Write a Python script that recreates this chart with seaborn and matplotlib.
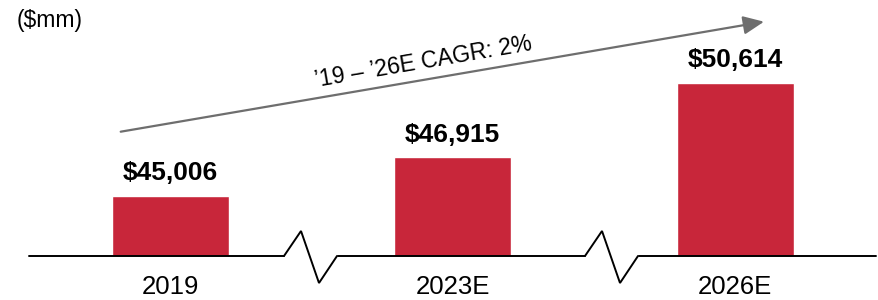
import matplotlib
matplotlib.use("Agg")
import matplotlib.pyplot as plt
import seaborn as sns
import pandas as pd
from matplotlib.patches import Circle

categories = ["2019", "2023E", "2026E"]
values = [45006, 46915, 50614]
value_labels = ["$45,006", "$46,915", "$50,614"]
unit_label = "($mm)"
cagr_label = "\u201919 \u2013 \u201926E CAGR: 2%"

sns.set_theme(style="white")
plt.rcParams['font.family'] = ['Liberation Sans', 'DejaVu Sans']

W, H = 879, 300
fig = plt.figure(figsize=(W / 100, H / 100), dpi=100)

ax_left, ax_right = 29, 876
base_py = 256
ax = fig.add_axes([ax_left / W, (H - base_py) / H, (ax_right - ax_left) / W, base_py / H])

df = pd.DataFrame({"year": categories, "value": values})
sns.barplot(data=df, x="year", y="value", color="#C8263A", saturation=1,
            width=0.414, ax=ax)

x0, dx = 170.3, 282.5
px2x = lambda px: (px - x0) / dx
ax.set_xlim(px2x(ax_left), px2x(ax_right))
ymin = 42000
ppu = 0.0201
ax.set_ylim(ymin, ymin + base_py / ppu)
py2y = lambda py: ymin + (base_py - py) / ppu

for s in ax.spines.values():
    s.set_visible(False)
ax.set_xlabel("")
ax.set_ylabel("")
ax.set_yticks([])
ax.tick_params(axis="x", length=0, pad=14, labelsize=18.5, labelcolor="black")

for i, (v, lab) in enumerate(zip(values, value_labels)):
    ax.annotate(lab, (i, v), xytext=(0, 11.3), textcoords="offset points",
                ha="center", va="baseline", fontsize=19, fontweight="bold",
                color="black")

lc = dict(color="black", lw=1.4, clip_on=False, solid_joinstyle="miter")
segs = [(29, 284), (338, 585), (639, 876)]
for a, b in segs:
    ax.plot([px2x(a), px2x(b)], [py2y(256), py2y(256)], **lc)
for zx in (284, 585):
    pxs = [zx, zx + 17, zx + 35, zx + 53]
    pys = [256, 231, 283, 256]
    ax.plot([px2x(p) for p in pxs], [py2y(p) for p in pys], **lc)

fig.text(17 / W, 1 - 21 / H, unit_label, fontsize=16.5, color="black",
         ha="left", va="center")

ax.annotate("", xy=(764, H - 21.7), xytext=(120.7, H - 131.7),
            xycoords="figure pixels", textcoords="figure pixels",
            arrowprops=dict(arrowstyle="-|>,head_length=0.9,head_width=0.4",
                            color="#6E6E6E", lw=1.6, mutation_scale=14,
                            shrinkA=0, shrinkB=0))
fig.text(423 / W, 1 - 62 / H, cagr_label, fontsize=16.5, color="black",
         ha="center", va="center", rotation=9.7, rotation_mode="anchor")

fig.patches.append(Circle((890 / W, (H - 315) / H), 29 / W, transform=fig.transFigure,
                          facecolor="#C8263A", edgecolor="#F2C200", lw=2,
                          clip_on=False))

fig.savefig("out.png", dpi=100)
